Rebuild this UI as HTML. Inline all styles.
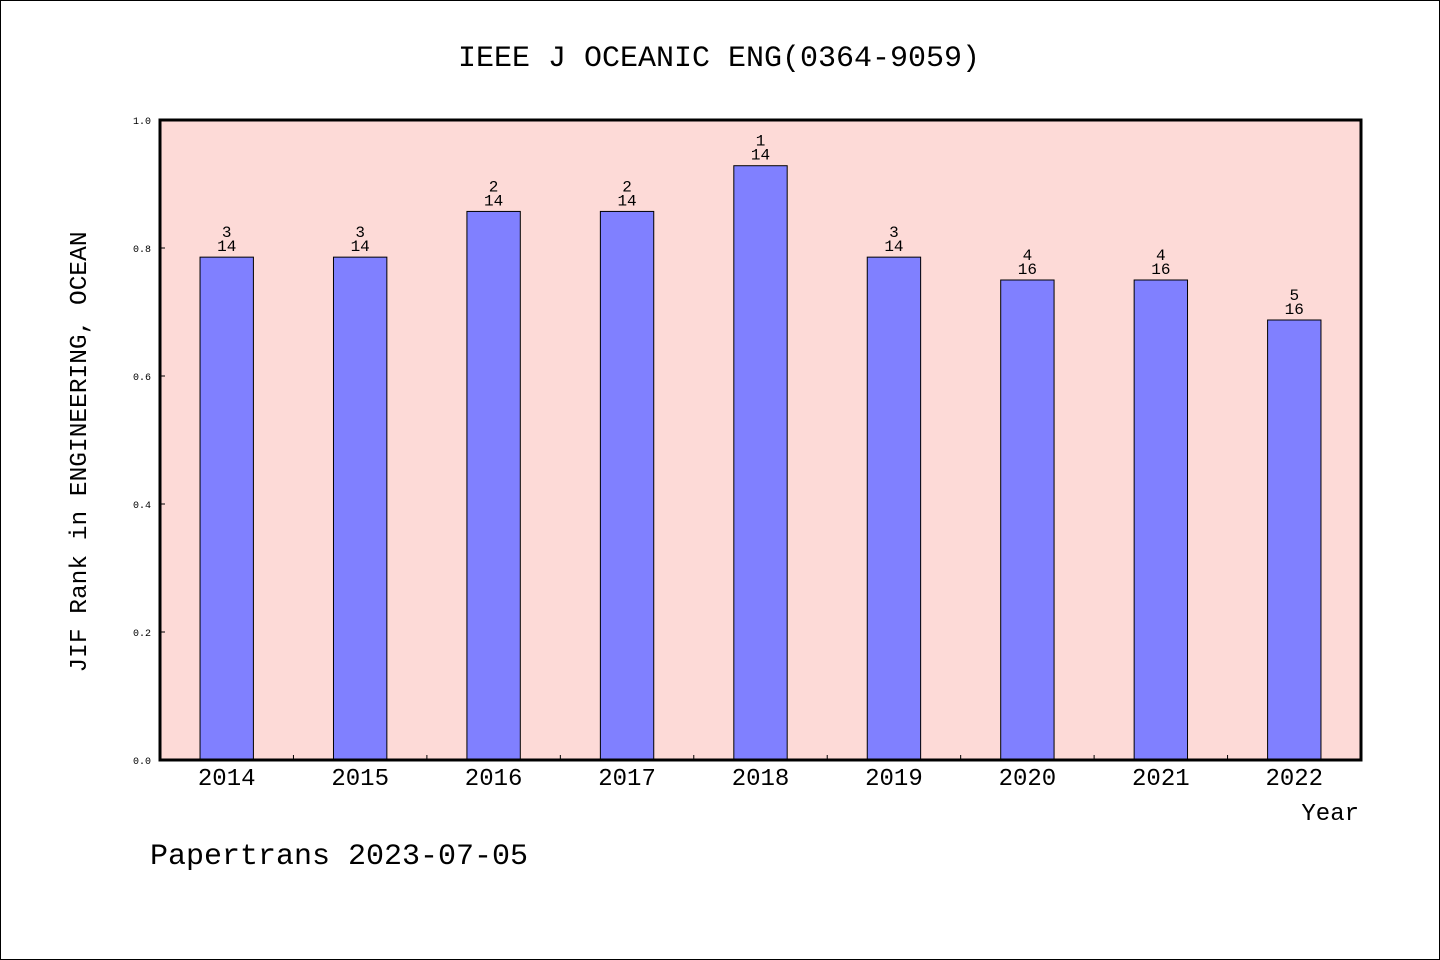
<!DOCTYPE html>
<html><head><meta charset="utf-8"><style>
html,body{margin:0;padding:0;background:#fff}
svg{display:block;font-family:"Liberation Mono",monospace}
</style></head><body>
<svg id="chart" width="1440" height="960" xmlns="http://www.w3.org/2000/svg">
<rect x="0.5" y="0.5" width="1439" height="959" fill="#fff" stroke="#000"/>
<text x="719" y="66" text-anchor="middle" font-size="30">IEEE J OCEANIC ENG(0364-9059)</text>
<rect x="160" y="120" width="1201" height="640" fill="#fddad7"/>
<g id="bars"></g>
<g id="yticks"></g>
<g id="xticks"></g>
<rect x="160" y="120" width="1201" height="640" fill="none" stroke="#000" stroke-width="3"/>
<text transform="translate(86,452) rotate(-90)" text-anchor="middle" font-size="24.5">JIF Rank in ENGINEERING, OCEAN</text>
<text x="1359" y="820" text-anchor="end" font-size="24">Year</text>
<text x="150" y="864" font-size="30">Papertrans 2023-07-05</text>
</svg>
<script>
const years=["2014","2015","2016","2017","2018","2019","2020","2021","2022"];
const ranks=[3,3,2,2,1,3,4,4,5];
const totals=[14,14,14,14,14,14,16,16,16];
const yTicks=[0,0.2,0.4,0.6,0.8,1.0];
const NS="http://www.w3.org/2000/svg";
const X0=160,X1=1361,Y0=760,Y1=120;
const step=(X1-X0)/years.length;
const xc=i=>X0+step*(i+0.5);
const ys=v=>Y0-(Y0-Y1)*v;
function mk(t,a,p){const e=document.createElementNS(NS,t);for(const k in a)e.setAttribute(k,a[k]);p.appendChild(e);return e;}
const gb=document.getElementById('bars'),gy=document.getElementById('yticks'),gx=document.getElementById('xticks');
years.forEach((y,i)=>{
  const v=1-ranks[i]/totals[i];
  const w=step*0.4;
  const r=mk('rect',{x:xc(i)-w/2,y:ys(v),width:w,height:Y0-ys(v),fill:'#8080ff',stroke:'#000','stroke-width':1},gb);
  
  
  const t1=mk('text',{x:xc(i),y:ys(v)-20,'text-anchor':'middle','font-size':16},gb);t1.textContent=ranks[i];
  
  
  const t2=mk('text',{x:xc(i),y:ys(v)-6,'text-anchor':'middle','font-size':16},gb);t2.textContent=totals[i];
  
  
  const xl=mk('text',{x:xc(i),y:785,'text-anchor':'middle','font-size':24},gx);xl.textContent=y;
  
  
  if(i>0){const tk=mk('line',{x1:X0+step*i,x2:X0+step*i,y1:Y0,y2:Y0-5,stroke:'#000'},gx);
  
  }
});
yTicks.forEach(v=>{
  const tk=mk('line',{x1:X0,x2:X0+5,y1:ys(v),y2:ys(v),stroke:'#000'},gy);
  
  
  const t=mk('text',{x:151,y:ys(v)+4,'text-anchor':'end','font-size':10},gy);t.textContent=v.toFixed(1);
  
  
});
</script>
</body></html>
